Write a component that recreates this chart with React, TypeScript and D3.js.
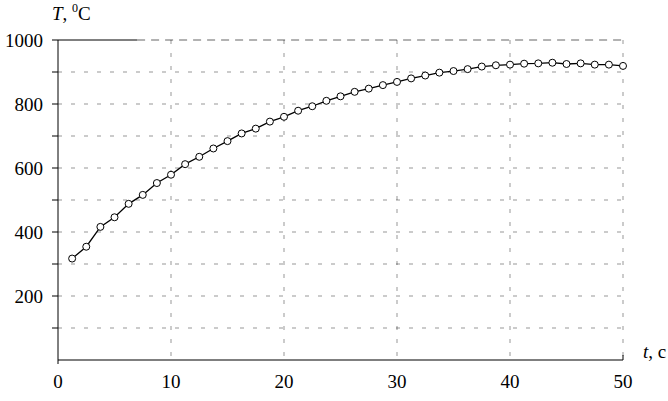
import React from "react";
import * as d3 from "d3";

const times = [1.25, 2.5, 3.75, 5, 6.25, 7.5, 8.75, 10, 11.25, 12.5, 13.75, 15, 16.25, 17.5, 18.75, 20, 21.25, 22.5, 23.75, 25, 26.25, 27.5, 28.75, 30, 31.25, 32.5, 33.75, 35, 36.25, 37.5, 38.75, 40, 41.25, 42.5, 43.75, 45, 46.25, 47.5, 48.75, 50];
const temps = [317, 354, 416, 446, 488, 516, 553, 579, 612, 635, 661, 684, 708, 723, 745, 760, 779, 793, 810, 824, 838, 848, 859, 869, 880, 889, 898, 903, 909, 917, 921, 923, 926, 927, 929, 925, 927, 923, 923, 919];
const xTickValues = [0, 10, 20, 30, 40, 50];
const yTickLabels = [200, 400, 600, 800, 1000];
const yMinorTicks = [100, 200, 300, 400, 500, 600, 700, 800, 900, 1000];

const W = 668;
const H = 401;
const left = 58;
const right = 623;
const top = 40;
const bottom = 360;

export default function App() {
  const x = d3.scaleLinear().domain([0, 50]).range([left, right]);
  const y = d3.scaleLinear().domain([0, 1000]).range([bottom, top]);
  const data = times.map((t, i) => ({ t, v: temps[i] }));
  const line = d3
    .line<{ t: number; v: number }>()
    .x((d) => x(d.t))
    .y((d) => y(d.v));
  const font = "'Liberation Serif', 'Times New Roman', serif";
  const grid = { stroke: "#000", strokeWidth: 1, strokeDasharray: "4,9", opacity: 0.4 };
  return (
    <svg
      width={W}
      height={H}
      style={{ position: "absolute", left: 0, top: 0, background: "#fff" }}
      fontFamily={font}
    >
      <rect x={0} y={0} width={W} height={H} fill="#fff" />
      {/* horizontal grid */}
      {yMinorTicks.filter((v) => v < 1000).map((v) => (
        <line key={"hg" + v} x1={left} x2={right} y1={y(v)} y2={y(v)} {...grid} />
      ))}
      {/* vertical grid */}
      {xTickValues.filter((v) => v > 0).map((v) => (
        <line key={"vg" + v} x1={x(v)} x2={x(v)} y1={top} y2={bottom + 3} {...grid} />
      ))}
      {/* top border */}
      <line x1={left} x2={x(7)} y1={top} y2={top} stroke="#000" strokeWidth={1} />
      <line x1={x(7)} x2={right} y1={top} y2={top} stroke="#000" strokeWidth={1} strokeDasharray="8,6" opacity={0.6} />
      {/* axes */}
      <line x1={left} x2={left} y1={top} y2={bottom} stroke="#000" strokeWidth={1} />
      <line x1={left} x2={right} y1={bottom} y2={bottom} stroke="#000" strokeWidth={1.2} />
      {yMinorTicks.map((v) => (
        <line key={"yt" + v} x1={left - 6} x2={left} y1={y(v)} y2={y(v)} stroke="#000" strokeWidth={1} />
      ))}
      <line x1={left} x2={left} y1={bottom} y2={bottom + 4} stroke="#000" strokeWidth={1} />
      <line x1={right} x2={right} y1={bottom - 5} y2={bottom} stroke="#000" strokeWidth={1} />
      {yTickLabels.map((v) => (
        <text key={"yl" + v} x={43} y={y(v) + 6.5} fontSize={19} textAnchor="end" fill="#000">
          {v}
        </text>
      ))}
      {xTickValues.map((v) => (
        <text key={"xl" + v} x={x(v)} y={388} fontSize={19} textAnchor="middle" fill="#000">
          {v}
        </text>
      ))}
      {/* series */}
      <path d={line(data) || ""} fill="none" stroke="#000" strokeWidth={1.3} />
      {data.map((d, i) => (
        <circle key={"p" + i} cx={x(d.t)} cy={y(d.v)} r={3.5} fill="#fff" stroke="#000" strokeWidth={1} />
      ))}
      {/* axis titles */}
      <text x={52} y={20} fontSize={19} fill="#000">
        <tspan fontStyle="italic">T</tspan>
        <tspan>, </tspan>
        <tspan fontSize={12} dy={-8}>0</tspan>
        <tspan dy={8}>C</tspan>
      </text>
      <text x={643} y={358} fontSize={19} fill="#000">
        <tspan fontStyle="italic">t</tspan>
        <tspan>, c</tspan>
      </text>
    </svg>
  );
}
